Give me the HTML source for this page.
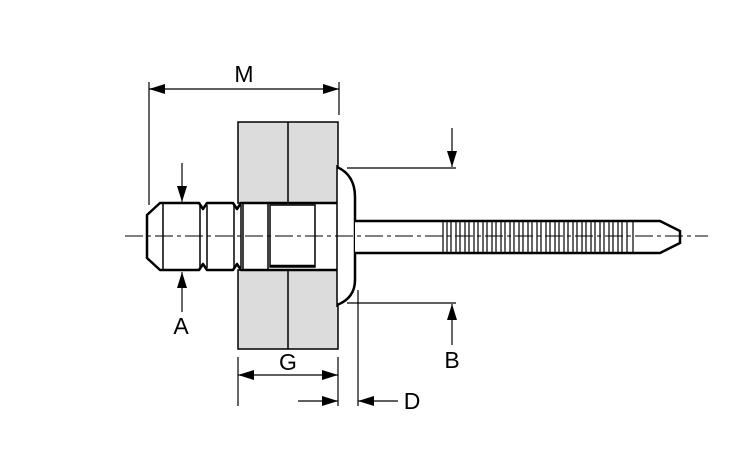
<!DOCTYPE html>
<html><head><meta charset="utf-8"><style>
html,body{margin:0;padding:0;background:#fff;}
svg{display:block;}
text{font-family:"Liberation Sans",sans-serif;font-size:23px;fill:#000;}
</style></head><body>
<svg width="750" height="450" viewBox="0 0 750 450" xmlns="http://www.w3.org/2000/svg">
<defs>
<marker id="ar2" markerWidth="16" markerHeight="10" refX="16" refY="5" orient="auto" markerUnits="userSpaceOnUse" viewBox="0 0 16 10">
<path d="M0,0 L16,5 L0,10 z" fill="#000"/></marker>
</defs>
<!-- sheets -->
<rect x="238" y="122" width="100" height="81" fill="#dcdcdc" stroke="#000" stroke-width="1.5"/>
<rect x="238" y="270" width="100" height="79" fill="#dcdcdc" stroke="#000" stroke-width="1.5"/>
<line x1="288" y1="122" x2="288" y2="203" stroke="#000" stroke-width="1.5"/>
<line x1="288" y1="270" x2="288" y2="349" stroke="#000" stroke-width="1.5"/>
<!-- body -->
<path d="M160,203 L199,203 L203,209 L207,203 L233,203 L237,209 L241,203 L338,203 L338,270 L241,270 L237,264 L233,270 L207,270 L203,264 L199,270 L160,270 L147,258 L147,215 Z" fill="#fff" stroke="#000" stroke-width="2.5" stroke-linejoin="round"/>
<line x1="163" y1="203" x2="163" y2="270" stroke="#000" stroke-width="1.5"/>
<line x1="200" y1="205" x2="200" y2="268" stroke="#000" stroke-width="1.5"/>
<line x1="207" y1="205" x2="207" y2="268" stroke="#000" stroke-width="1.5"/>
<line x1="234" y1="205" x2="234" y2="268" stroke="#000" stroke-width="1.5"/>
<line x1="241" y1="205" x2="241" y2="268" stroke="#000" stroke-width="1.5"/>
<line x1="243" y1="203" x2="243" y2="270" stroke="#000" stroke-width="1.5"/>
<line x1="268" y1="203" x2="268" y2="270" stroke="#000" stroke-width="1.5"/>
<rect x="270" y="205" width="45" height="62" fill="none" stroke="#000" stroke-width="1.5"/>
<line x1="270" y1="266" x2="315" y2="266" stroke="#000" stroke-width="2.5"/>
<!-- head -->
<path d="M337,167 Q355,175 355,197 L355,280 Q355,298 337,305" fill="#fff" stroke="#000" stroke-width="2.5"/>
<line x1="337" y1="165" x2="337" y2="307" stroke="#000" stroke-width="1.5"/>
<!-- mandrel -->
<path d="M355,221 L660,221 L680,231 L680,243 L660,253 L355,253" fill="#fff" stroke="#000" stroke-width="2.5"/>
<g stroke="#000" stroke-width="1.2">
<path d="M443,221V253M447,221V253M451,221V253M456,221V253M460,221V253M465,221V253M469,221V253M474,221V253M478,221V253M483,221V253M487,221V253M492,221V253M496,221V253M501,221V253M505,221V253M510,221V253M514,221V253M519,221V253M523,221V253M528,221V253M532,221V253M537,221V253M541,221V253M546,221V253M550,221V253M555,221V253M559,221V253M564,221V253M568,221V253M573,221V253M577,221V253M582,221V253M586,221V253M591,221V253M595,221V253M600,221V253M604,221V253M609,221V253M613,221V253M618,221V253M622,221V253M627,221V253M633,221V253"/>
</g>
<!-- centerline -->
<line x1="125" y1="236" x2="708" y2="236" stroke="#000" stroke-width="1" stroke-dasharray="18,4,4,4"/>
<!-- M -->
<line x1="149" y1="82" x2="149" y2="205" stroke="#000" stroke-width="1.2"/>
<line x1="339" y1="82" x2="339" y2="115" stroke="#000" stroke-width="1.2"/>
<line x1="160" y1="89" x2="149" y2="89" stroke="#000" stroke-width="1.2" marker-end="url(#ar2)"/>
<line x1="150" y1="89" x2="339" y2="89" stroke="#000" stroke-width="1.2" marker-end="url(#ar2)"/>
<text x="244" y="82" text-anchor="middle">M</text>
<!-- A -->
<line x1="182" y1="163" x2="182" y2="202" stroke="#000" stroke-width="1.2" marker-end="url(#ar2)"/>
<line x1="182" y1="312" x2="182" y2="272" stroke="#000" stroke-width="1.2" marker-end="url(#ar2)"/>
<text x="181" y="334" text-anchor="middle">A</text>
<!-- B -->
<line x1="347" y1="168" x2="456" y2="168" stroke="#000" stroke-width="1.2"/>
<line x1="452" y1="128" x2="452" y2="167" stroke="#000" stroke-width="1.2" marker-end="url(#ar2)"/>
<line x1="347" y1="303" x2="456" y2="303" stroke="#000" stroke-width="1.2"/>
<line x1="452" y1="345" x2="452" y2="304" stroke="#000" stroke-width="1.2" marker-end="url(#ar2)"/>
<text x="452" y="368" text-anchor="middle">B</text>
<!-- G -->
<line x1="238" y1="357" x2="238" y2="406" stroke="#000" stroke-width="1.2"/>
<line x1="338" y1="357" x2="338" y2="406" stroke="#000" stroke-width="1.2"/>
<line x1="250" y1="375" x2="238" y2="375" stroke="#000" stroke-width="1.2" marker-end="url(#ar2)"/>
<line x1="240" y1="375" x2="338" y2="375" stroke="#000" stroke-width="1.2" marker-end="url(#ar2)"/>
<text x="288" y="370" text-anchor="middle">G</text>
<!-- D -->
<line x1="358" y1="290" x2="358" y2="406" stroke="#000" stroke-width="1.2"/>
<line x1="298" y1="401" x2="338" y2="401" stroke="#000" stroke-width="1.2" marker-end="url(#ar2)"/>
<line x1="398" y1="401" x2="358" y2="401" stroke="#000" stroke-width="1.2" marker-end="url(#ar2)"/>
<text x="412" y="409" text-anchor="middle">D</text>
</svg>
</body></html>
